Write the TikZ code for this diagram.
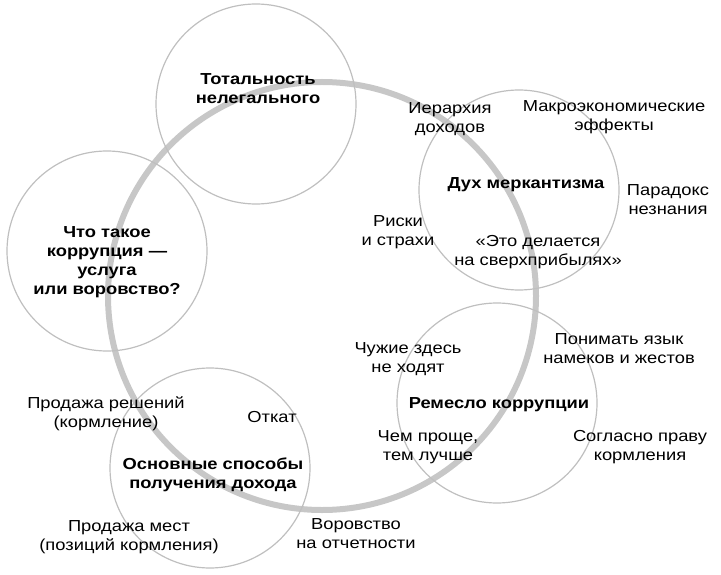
\documentclass[tikz,border=0pt]{standalone}
\usepackage{fontspec}
\setmainfont{Liberation Sans}[FakeStretch=1.15]
\begin{document}
\begin{tikzpicture}[x=1bp,y=-1bp,
  small/.style={circle,draw=black!25,line width=1.2bp,minimum size=200bp,inner sep=0pt},
  big/.style={circle,draw=black!22,line width=6bp,minimum size=428bp,inner sep=0pt},
  lbl/.style={align=center,inner sep=0pt,font=\fontsize{16}{19}\selectfont},
  ttl/.style={lbl,font=\fontsize{16}{19}\selectfont\bfseries}]
\useasboundingbox (0,0) rectangle (721,575);
\node[big] (ring) at (322,296) {};
\node[small] (ctop) at (256,104) {};
\node[small] (cleft) at (107,251) {};
\node[small] (cmerc) at (519,190) {};
\node[small] (ccraft) at (497,403) {};
\node[small] (cways) at (210,468) {};
\node[ttl] (ttop) at (258,89) {Тотальность\\нелегального};
\node[ttl] (tleft) at (107,262) {Что такое\\коррупция —\\услуга\\или воровство?};
\node[ttl] (tmerc) at (526,185) {Дух меркантизма};
\node[ttl] (tcraft) at (499,405) {Ремесло коррупции};
\node[ttl] (tways) at (213,475) {Основные способы\\получения дохода};
\node[lbl] (a1) at (450,119) {Иерархия\\доходов};
\node[lbl] (a2) at (614,117) {Макроэкономические\\эффекты};
\node[lbl] (a3) at (668,200) {Парадокс\\незнания};
\node[lbl] (a4) at (398,232) {Риски\\и страхи};
\node[lbl] (a5) at (538,252) {«Это делается\\на сверхприбылях»};
\node[lbl] (b1) at (408,359) {Чужие здесь\\не ходят};
\node[lbl] (b2) at (619,349) {Понимать язык\\намеков и жестов};
\node[lbl] (b3) at (428,447) {Чем проще,\\тем лучше};
\node[lbl] (b4) at (640,447) {Согласно праву\\кормления};
\node[lbl] (c1) at (356,534) {Воровство\\на отчетности};
\node[lbl] (c2) at (106,414) {Продажа решений\\(кормление)};
\node[lbl] (c3) at (272,417) {Откат};
\node[lbl] (c4) at (129,537) {Продажа мест\\(позиций кормления)};
\end{tikzpicture}
\end{document}
